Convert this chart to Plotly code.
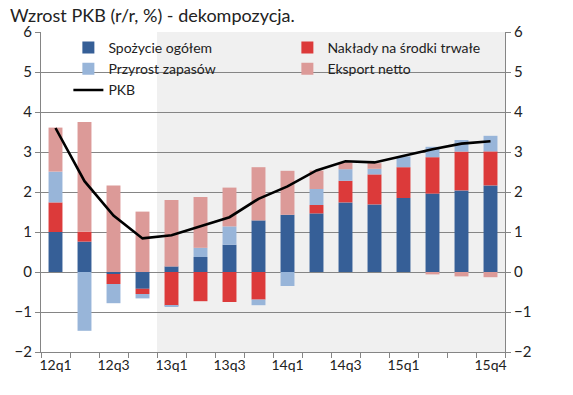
import plotly.graph_objects as go

quarters = ["12q1", "12q2", "12q3", "12q4", "13q1", "13q2", "13q3", "13q4",
            "14q1", "14q2", "14q3", "14q4", "15q1", "15q2", "15q3", "15q4"]
tick_labels = ["12q1", "", "12q3", "", "13q1", "", "13q3", "",
               "14q1", "", "14q3", "", "15q1", "", "", "15q4"]

spozycie = [1.00, 0.76, -0.05, -0.42, 0.14, 0.375, 0.68, 1.29,
            1.43, 1.465, 1.74, 1.69, 1.85, 1.96, 2.04, 2.165]
naklady = [0.74, 0.25, -0.25, -0.13, -0.84, -0.73, -0.75, -0.69,
           0.0, 0.21, 0.54, 0.75, 0.77, 0.91, 0.97, 0.85]
zapasy = [0.77, -1.47, -0.48, -0.11, -0.03, 0.23, 0.46, -0.14,
          -0.35, 0.40, 0.29, 0.14, 0.27, 0.26, 0.29, 0.39]
eksport = [1.10, 2.74, 2.16, 1.51, 1.66, 1.27, 0.97, 1.33,
           1.10, 0.46, 0.17, 0.14, 0.0, -0.06, -0.11, -0.13]
pkb = [3.60, 2.27, 1.41, 0.84, 0.92, 1.15, 1.37, 1.83,
       2.14, 2.54, 2.77, 2.74, 2.91, 3.07, 3.21, 3.27]

FONT = "Lato"
GRID = "#858585"
x = list(range(len(quarters)))

fig = go.Figure()
series = [
    ("Spożycie ogółem", spozycie, "#365f97"),
    ("Nakłady na środki trwałe", naklady, "#dc3a3a"),
    ("Przyrost zapasów", zapasy, "#98b5d9"),
    ("Eksport netto", eksport, "#dc9a98"),
]
for name, vals, col in series:
    fig.add_trace(go.Bar(x=x, y=vals, name=name, marker_color=col,
                         marker_line_width=0))
fig.add_trace(go.Scatter(x=x, y=pkb, name="PKB", mode="lines",
                         line=dict(color="black", width=2.6)))
# invisible trace to activate right axis
fig.add_trace(go.Scatter(x=[x[0]], y=[pkb[0]], yaxis="y2", mode="markers",
                         marker=dict(opacity=0), showlegend=False, hoverinfo="skip"))

fig.add_shape(type="rect", xref="x", yref="paper", x0=3.5, x1=15.5, y0=0, y1=1,
              fillcolor="#f0f0f0", line_width=0, layer="below")

yax = dict(range=[-2, 6], dtick=1, tick0=-2, showgrid=True, gridcolor=GRID,
           gridwidth=1, zeroline=False, showline=True, linecolor=GRID,
           linewidth=1, ticks="outside", ticklen=5, tickcolor=GRID,
           tickfont=dict(family=FONT, size=15, color="#222"))

fig.update_layout(
    width=573, height=395,
    margin=dict(l=33, r=76, t=24, b=51, autoexpand=False),
    paper_bgcolor="white", plot_bgcolor="white",
    barmode="relative", bargap=0.52,
    title=dict(text="Wzrost PKB (r/r, %) - dekompozycja.", x=2 / 573, xanchor="left",
               y=1 - 1 / 395, yanchor="top", automargin=False, pad=dict(t=0, b=0),
               font=dict(family=FONT, size=18, color="#222")),
    xaxis=dict(range=[-0.5, 15.5], tickmode="array", tickvals=x, ticktext=tick_labels,
               showline=True, linecolor=GRID, linewidth=1, showgrid=False,
               zeroline=False, ticks="", automargin=False,
               minor=dict(tickmode="array", tickvals=[i - 0.5 for i in range(len(quarters) + 1)],
                          ticks="outside", ticklen=5, tickcolor=GRID, showgrid=False),
               tickfont=dict(family=FONT, size=14, color="#222")),
    yaxis=dict(yax, automargin=False),
    yaxis2=dict(yax, overlaying="y", side="right", showgrid=False, automargin=False),
    legend=dict(orientation="h", x=0.059, y=1.0, xanchor="left", yanchor="top",
                entrywidth=174, entrywidthmode="pixels", bgcolor="rgba(0,0,0,0)",
                font=dict(family=FONT, size=14, color="#222"),
                itemwidth=30, traceorder="normal"),
    showlegend=True,
)

fig.write_html("out.html")
